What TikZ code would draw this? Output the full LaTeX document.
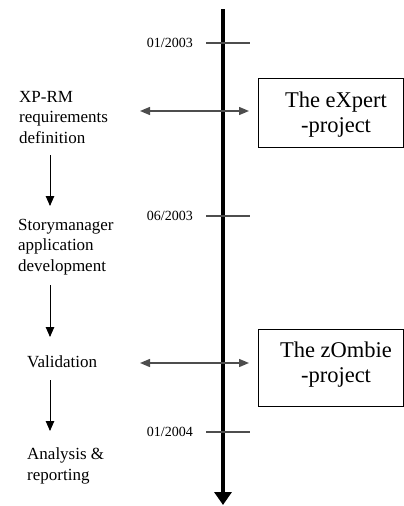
\documentclass[tikz,border=0pt]{standalone}
\usepackage{fontspec}
\setmainfont{Liberation Serif}
\usetikzlibrary{arrows.meta}
\definecolor{tickgray}{HTML}{4D4D4D}
\begin{document}
\begin{tikzpicture}[x=1pt,y=-1pt,
  % multi-line nodes: the base anchor sits on the last line
  phase/.style={anchor=base west, align=left, inner sep=0pt,
    font=\fontsize{17}{20.5}\selectfont},
  datelbl/.style={anchor=base east, inner sep=0pt,
    font=\fontsize{14}{16}\selectfont},
  projbox/.style={draw, line width=1pt, anchor=north west, inner sep=0pt},
  projtxt/.style={anchor=base, align=center, inner sep=0pt,
    font=\fontsize{22.5}{25}\selectfont},
  timeaxis/.style={line width=3.3pt, -{Triangle[length=13pt,width=17pt]}},
  tick/.style={draw=tickgray, line width=1.4pt},
  flow/.style={line width=0.9pt, -{Triangle[length=10pt,width=8.5pt]}},
  link/.style={draw=tickgray, line width=1.4pt,
    {Triangle[length=10pt,width=8pt]}-{Triangle[length=10pt,width=8pt]}}
]
\useasboundingbox (0,0) rectangle (404,506);

% time axis
\coordinate (axtop) at (223,9);
\coordinate (axend) at (223,505);
\draw[timeaxis] (axtop) -- (axend);

% milestones on the axis
\coordinate (t1a) at (206,43);  \coordinate (t1b) at (250,43);
\coordinate (t2a) at (206,216); \coordinate (t2b) at (250,216);
\coordinate (t3a) at (206,432); \coordinate (t3b) at (250,432);
\draw[tick] (t1a) -- (t1b);
\draw[tick] (t2a) -- (t2b);
\draw[tick] (t3a) -- (t3b);
\node[datelbl] (d1) at (193,47) {01/2003};
\node[datelbl] (d2) at (193,220) {06/2003};
\node[datelbl] (d3) at (193,436) {01/2004};

% project phases
\node[phase] (reqdef) at (19,143) {XP-RM\\requirements\\definition};
\node[phase] (story) at (18,271) {Storymanager\\application\\development};
\node[phase] (valid) at (27,367) {Validation};
\node[phase] (analysis) at (27,480) {Analysis \&\\reporting};

\coordinate (f1a) at (50,155); \coordinate (f1b) at (50,206);
\coordinate (f2a) at (50,285); \coordinate (f2b) at (50,337);
\coordinate (f3a) at (50,380); \coordinate (f3b) at (50,431);
\draw[flow] (f1a) -- (f1b);
\draw[flow] (f2a) -- (f2b);
\draw[flow] (f3a) -- (f3b);

% related projects
\node[projbox, minimum width=145pt, minimum height=69pt] (expert) at (258,78) {};
\node[projtxt] (experttxt) at (336,132) {The eXpert\\-project};
\node[projbox, minimum width=145pt, minimum height=77pt] (zombie) at (258,329) {};
\node[projtxt] (zombietxt) at (336,382) {The zOmbie\\-project};

\coordinate (l1a) at (140,111); \coordinate (l1b) at (249,111);
\coordinate (l2a) at (140,363); \coordinate (l2b) at (249,363);
\draw[link] (l1a) -- (l1b);
\draw[link] (l2a) -- (l2b);
\end{tikzpicture}
\end{document}
